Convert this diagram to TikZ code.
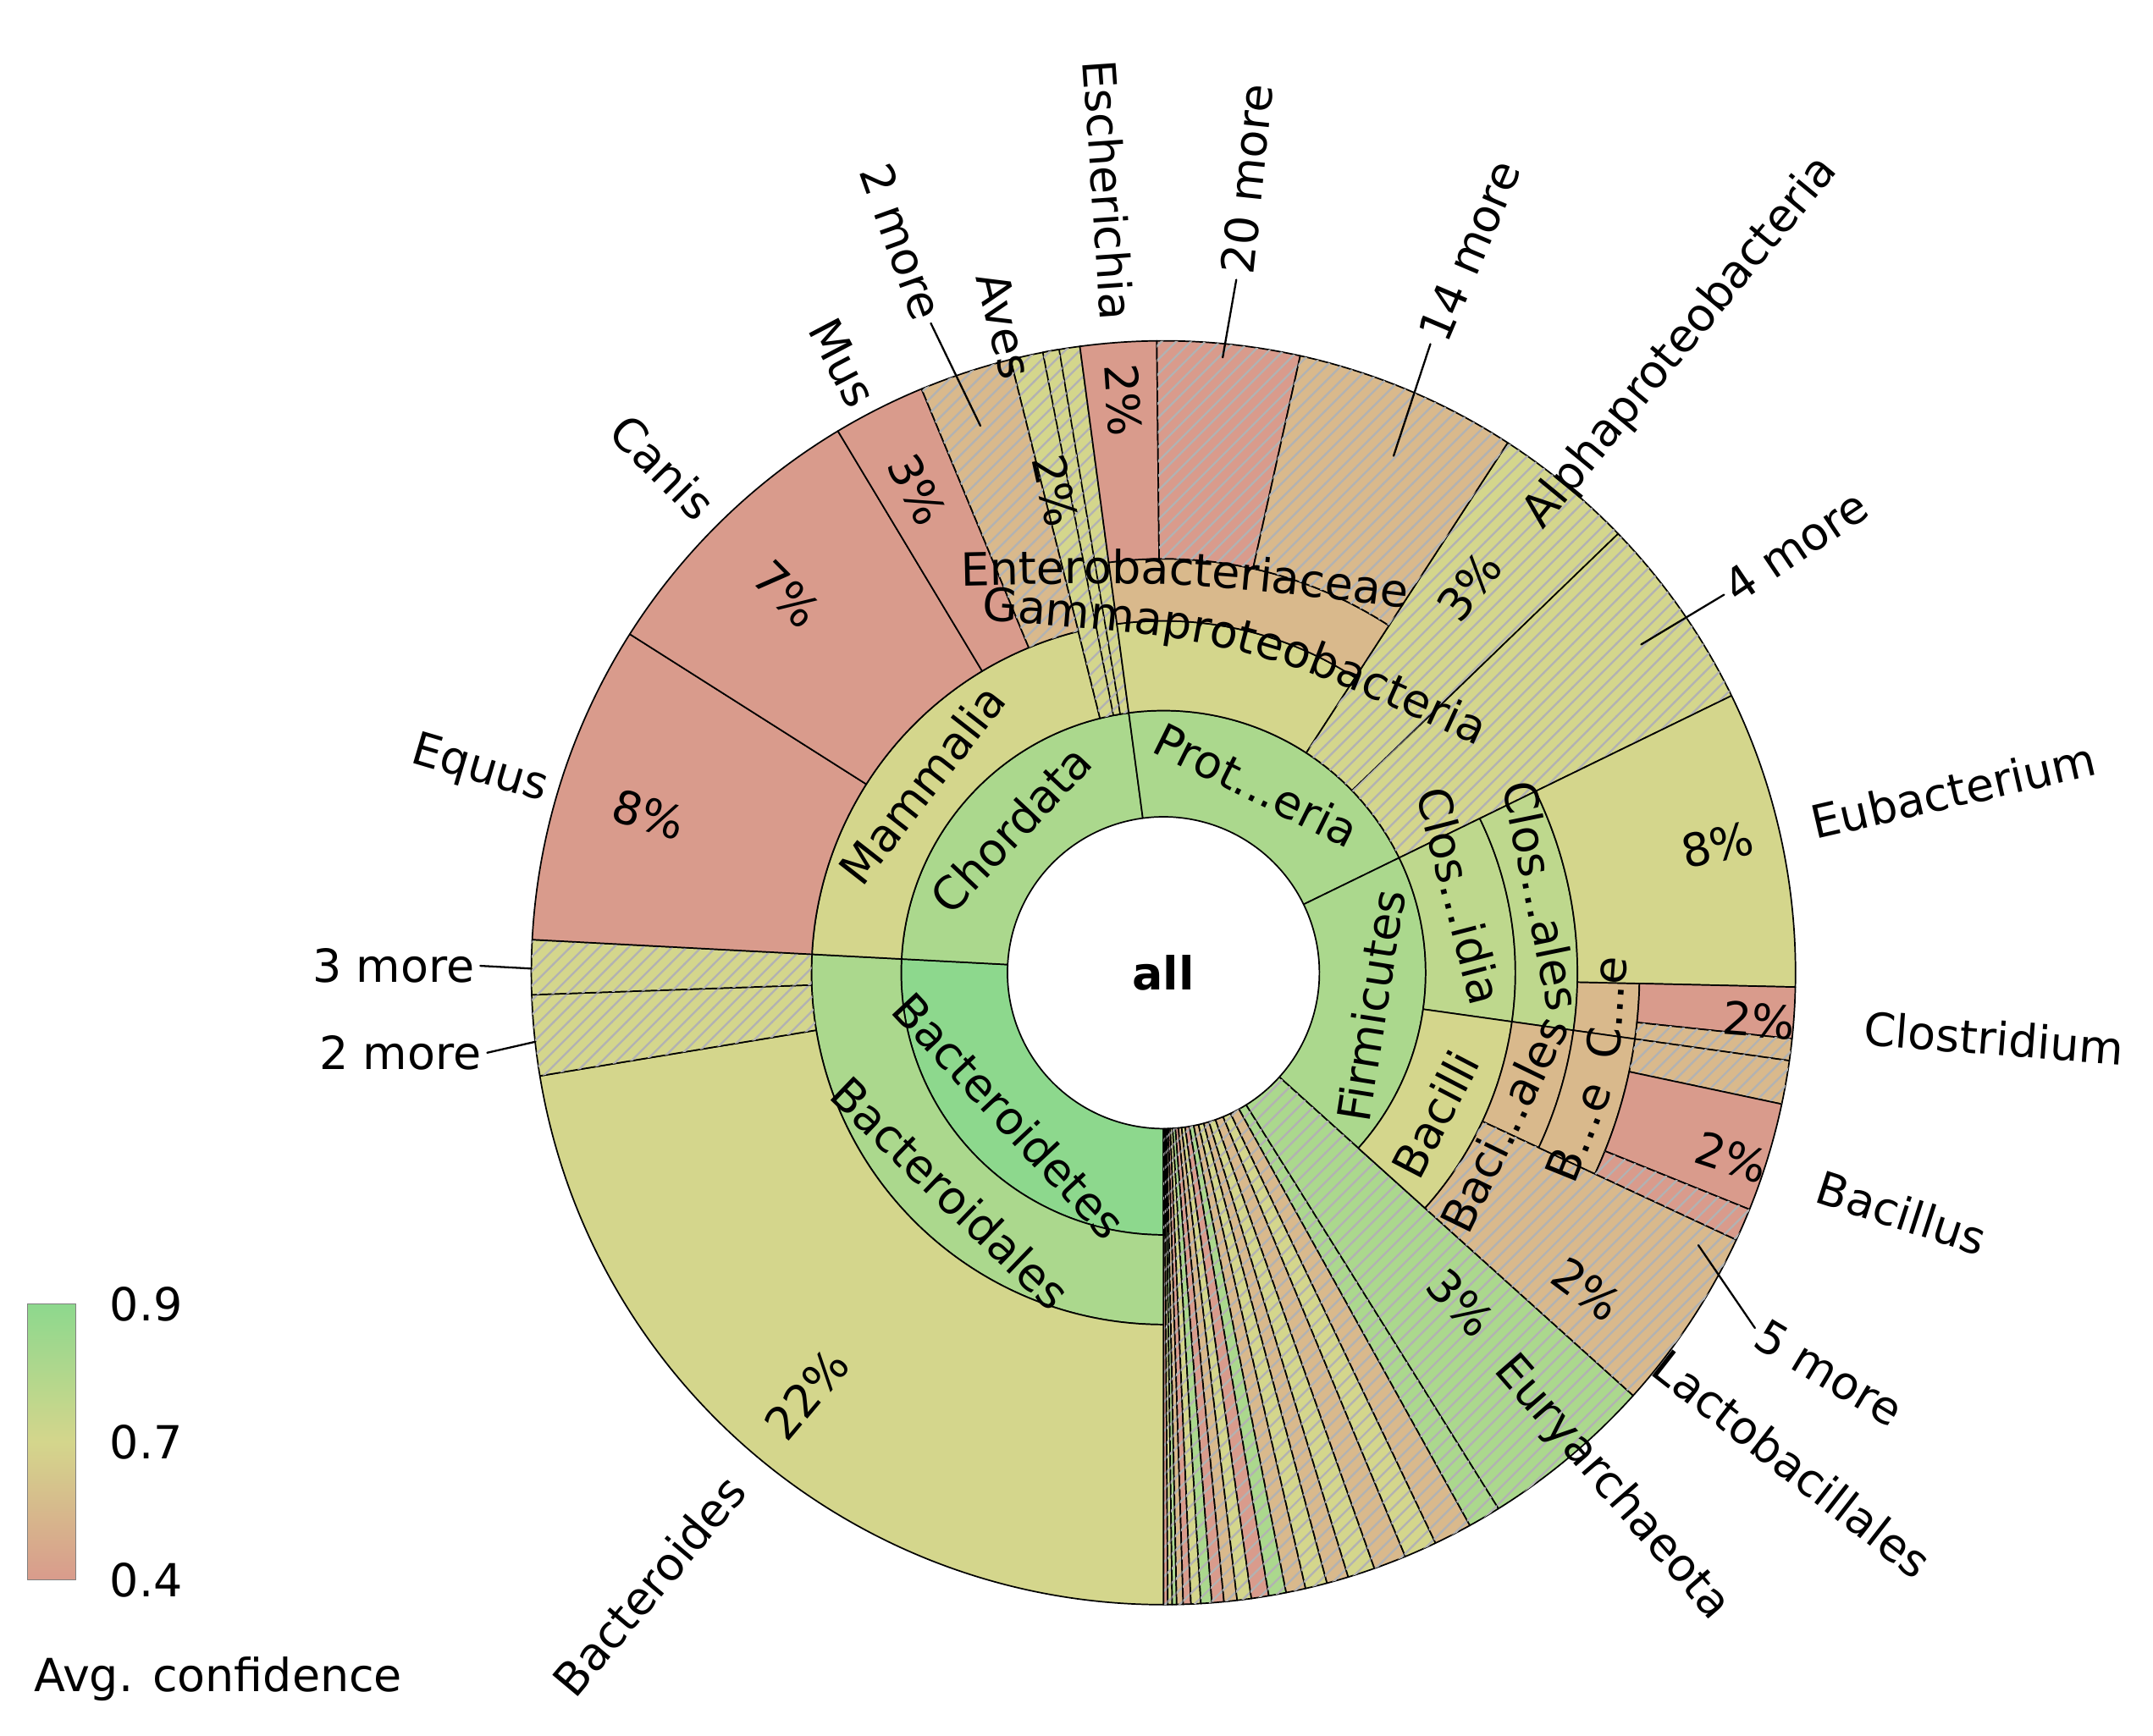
\documentclass[tikz,border=0pt]{standalone}
\usepackage{fontspec}
\setmainfont{DejaVu Sans}
\usetikzlibrary{patterns,decorations.text}
\definecolor{cred}{RGB}{217,155,140}
\definecolor{ctan}{RGB}{217,185,140}
\definecolor{cyel}{RGB}{212,214,140}
\definecolor{cgrn}{RGB}{171,216,141}
\definecolor{cbgr}{RGB}{141,216,141}
\definecolor{cylg}{RGB}{190,216,141}
\tikzset{
  seg/.style={draw=black,line width=0.3pt},
  hatch/.style={postaction={pattern=north east lines,pattern color=black!30}},
  lab/.style={inner sep=1pt},
}
\newcommand\wedgeseg[5]{\filldraw[seg,#5] (#3:#1) arc[start angle=#3,end angle=#4,radius=#1] -- (#4:#2) arc[start angle=#4,end angle=#3,radius=#2] -- cycle;}
\begin{document}
\fontsize{9.4}{11}\selectfont
\begin{tikzpicture}[x=0.01cm,y=0.01cm,line cap=round,line join=round]
\useasboundingbox (-843,-553) rectangle (717,705);
% inner ring
\wedgeseg{113}{190}{177}{270}{fill=cbgr}
\wedgeseg{113}{190}{97.6}{177}{fill=cgrn}
\wedgeseg{113}{190}{26}{97.6}{fill=cgrn}
\wedgeseg{113}{190}{-42}{26}{fill=cgrn}
\wedgeseg{113}{458}{-58}{-42}{fill=cgrn,hatch}
\foreach \a/\b/\c in {-90/-89.6/cred,-89.6/-89.2/cyel,-89.2/-88.8/cgrn,-88.8/-88.2/ctan,-88.2/-87.5/cred,-87.5/-86.6/cyel,-86.6/-85.6/cgrn,-85.6/-84.5/cred,-84.5/-83.3/ctan,-83.3/-82/cyel,-82/-80.4/cred,-80.4/-78.8/cgrn,-78.8/-77/ctan,-77/-75/cyel,-75/-73/ctan,-73/-70.5/cyel,-70.5/-67.5/ctan,-67.5/-64.5/cyel,-64.5/-61/ctan,-61/-58/cgrn}
  \wedgeseg{113}{458}{\a}{\b}{fill=\c,hatch};
% second ring
\wedgeseg{190}{255}{177}{270}{fill=cgrn}
\wedgeseg{190}{255}{104}{177}{fill=cyel}
\wedgeseg{190}{458}{97.6}{104}{fill=cyel,hatch}
\wedgeseg{190}{458}{99.5}{101}{fill=cyel,hatch}
\wedgeseg{190}{255}{57}{97.6}{fill=cyel}
\wedgeseg{190}{458}{44}{57}{fill=cyel,hatch}
\wedgeseg{190}{458}{26}{44}{fill=cyel,hatch}
\wedgeseg{190}{255}{-8}{26}{fill=cylg}
\wedgeseg{190}{255}{-42}{-8}{fill=cyel}
% third ring
\wedgeseg{255}{300}{57}{97.6}{fill=ctan}
\wedgeseg{255}{300}{-8}{26}{fill=cylg}
\wedgeseg{255}{300}{-25}{-8}{fill=ctan}
\wedgeseg{255}{458}{-42}{-25}{fill=ctan,hatch}
\wedgeseg{300}{345}{-8}{-1.3}{fill=ctan}
\wedgeseg{300}{345}{-25}{-8}{fill=ctan}
% genera
\wedgeseg{255}{458}{189.4}{270}{fill=cyel}
\wedgeseg{255}{458}{182}{189.4}{fill=cyel,hatch}
\wedgeseg{255}{458}{177}{182}{fill=cyel,hatch}
\wedgeseg{255}{458}{147.6}{177}{fill=cred}
\wedgeseg{255}{458}{121}{147.6}{fill=cred}
\wedgeseg{255}{458}{112.5}{121}{fill=cred}
\wedgeseg{255}{458}{104}{112.5}{fill=ctan,hatch}
\wedgeseg{300}{458}{90.6}{97.6}{fill=cred}
\wedgeseg{300}{458}{77.5}{90.6}{fill=cred,hatch}
\wedgeseg{300}{458}{57}{77.5}{fill=ctan,hatch}
\wedgeseg{300}{458}{-1.3}{26}{fill=cyel}
\wedgeseg{345}{458}{-6}{-1.3}{fill=cred}
\wedgeseg{345}{458}{-8}{-6}{fill=ctan,hatch}
\wedgeseg{345}{458}{-12}{-8}{fill=ctan,hatch}
\wedgeseg{345}{458}{-22}{-12}{fill=cred}
\wedgeseg{345}{458}{-25}{-22}{fill=cred,hatch}
% inner labels
\node[font=\bfseries] (all) at (0,0) {all};
\node[lab,rotate=46.7] (chord) at (136.7:152) {Chordata};
\node[lab,rotate=-26.4] (prot) at (63.6:152) {Prot...eria};
\node[lab,rotate=81] (firm) at (-9:152) {Firmicutes};
\node[lab,rotate=-47] (bactd) at (222.9:152) {Bacteroidetes};
\node[lab,rotate=52] (mamm) at (142:222) {Mammalia};
\node[lab,rotate=-44] (bactl) at (226:222) {Bacteroidales};
\path[decorate,decoration={text along path,text align=center,text={Gammaproteobacteria}}] (-165,258) .. controls (60,242) .. (258,150);
\path[decorate,decoration={text along path,text align=center,text={Enterobacteriaceae}}] (-165,280) .. controls (15,284) .. (195,262);
\node[lab,rotate=-75.5] (clos) at (14.5:222) {Clos...idia};
\node[lab,rotate=-78.5] (closa) at (11.5:280) {Clos...ales};
\node[lab,rotate=62.5] (baci) at (-27.5:222) {Bacilli};
\node[lab,rotate=64] (bacia) at (-24:270) {Baci...ales};
\node[lab,rotate=68] (bfam) at (-21:322) {B...e};
\node[lab,rotate=85.5] (cfam) at (-4.5:322) {C...e};
% percentages
\node[lab,rotate=50] at (229.8:400) {22\%};
\node[lab,rotate=-17] at (162.9:390) {8\%};
\node[lab,rotate=-45.2] at (134.8:387) {7\%};
\node[lab,rotate=-63] at (117:393) {3\%};
\node[lab,rotate=-77.4] at (102.6:358) {2\%};
\node[lab,rotate=-86] at (94:416) {2\%};
\node[lab,rotate=51.6] at (51.6:357) {3\%};
\node[lab,rotate=13] at (13:412) {8\%};
\node[lab,rotate=-4.6] at (-4.6:433) {2\%};
\node[lab,rotate=-18] at (-18:433) {2\%};
\node[lab,rotate=-36.8] at (-36.8:383) {2\%};
\node[lab,rotate=-46.7] at (-48:322) {3\%};
% outer labels
\node[lab,rotate=50,anchor=east] (bdes) at (230:478) {Bacteroides};
\node[lab,rotate=-16.5,anchor=east] (equus) at (163.5:462) {Equus};
\node[lab,rotate=-45.3,anchor=east] (canis) at (134.7:466) {Canis};
\node[lab,rotate=-62.3,anchor=east] (mus) at (117.7:462) {Mus};
\node[lab,rotate=-76.2,anchor=east] (aves) at (103.8:440) {Aves};
\node[lab,rotate=-86,anchor=east] (esch) at (94:470) {Escherichia};
\node[lab,rotate=-70.3,anchor=east] (m2a) at (109.7:500) {2 more};
\draw (m2a.east) -- (108.5:418);
\node[lab,rotate=84,anchor=west] (m20) at (84:505) {20 more};
\draw (m20.west) -- (84.5:448);
\node[lab,rotate=67,anchor=west] (m14) at (67:495) {14 more};
\draw (m14.west) -- (66:410);
\node[lab,rotate=50.6,anchor=west] (alpha) at (50.6:418) {Alphaproteobacteria};
\node[lab,rotate=34,anchor=west] (m4) at (34:490) {4 more};
\draw (m4.west) -- (34.5:420);
\node[lab,rotate=13,anchor=west] (eub) at (13:478) {Eubacterium};
\node[lab,rotate=-4.5,anchor=west] (clost) at (-4.5:505) {Clostridium};
\node[lab,rotate=-18,anchor=west] (bacil) at (-18:495) {Bacillus};
\node[lab,rotate=-31,anchor=west] (m5) at (-31:500) {5 more};
\draw (m5.west) -- (-27:435);
\node[lab,rotate=-38,anchor=west] (lacto) at (-38:452) {Lactobacillales};
\node[lab,rotate=-49,anchor=west] (eury) at (-49:370) {Euryarchaeota};
\node[lab,anchor=east] (m3l) at (-495,5) {3 more};
\draw (m3l.east) -- (-458,3);
\node[lab,anchor=east] (m2l) at (-490,-58) {2 more};
\draw (m2l.east) -- (-455,-50);
% colour bar
\shade[top color=cbgr,bottom color=cred,middle color=cyel,draw=black!50,line width=0.3pt] (-823,-440) rectangle (-788,-240);
\node[anchor=west] (v9) at (-775,-240) {0.9};
\node[anchor=west] (v7) at (-775,-340) {0.7};
\node[anchor=west] (v4) at (-775,-440) {0.4};
\node[anchor=west] (avg) at (-830,-512) {Avg. confidence};
\end{tikzpicture}
\end{document}
